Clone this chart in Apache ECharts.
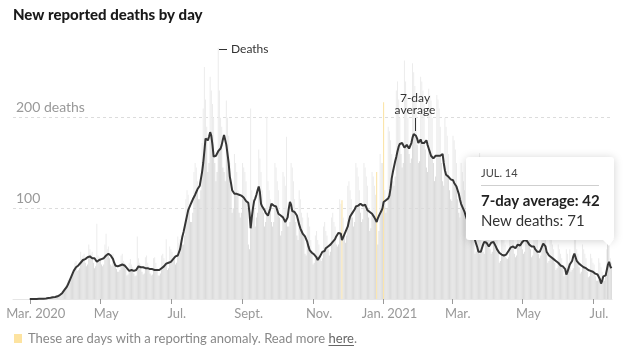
<!DOCTYPE html>
<html>
<head>
<meta charset="utf-8">
<script src="https://cdn.jsdelivr.net/npm/echarts@6/dist/echarts.min.js"></script>
<style>
html,body{margin:0;padding:0;background:#fff;}
#c{width:626px;height:352px;}
</style>
</head>
<body>
<div id="c"></div>
<script>
// ---- DATA ----
const startDate = '2020-03-01';   // first day of the daily series
const padDaysBefore = 14;          // empty axis room before the data
const tickDates  = ['2020-03-01','2020-05-01','2020-07-01','2020-09-01','2020-11-01','2021-01-01','2021-03-01','2021-05-01','2021-07-01'];
const tickLabels = ['Mar. 2020','May','Jul.','Sept.','Nov.','Jan. 2021','Mar.','May','Jul.'];
const yTickLabels = {100:'100', 200:'200 deaths'};
const anomalyDates = ['2020-11-26','2020-12-26','2021-01-01'];
const highlightDate = '2021-07-14';

const dailyDeaths = [
0,0,0,0,0,0,1, 0,0,0,1,0,1,1, 0,1,2,1,2,3,3, 2,1,4,3,5,5,6,
6,8,9,14,16,21,22, 22,24,30,33,40,42,31, 32,34,52,45,48,50,40, 36,38,60,55,50,52,40,
34,36,83,48,46,45,38, 36,38,60,72,55,58,45, 38,36,50,42,38,33,30, 30,32,48,50,42,40,33,
26,27,40,44,38,35,28, 25,26,69,45,40,38,30, 27,28,46,48,40,36,28, 26,27,45,46,40,34,26,
26,28,48,50,45,40,66, 32,34,58,55,52,48,44, 38,40,69,62,66,70,60, 60,70,110,120,115,100,85,
85,95,140,150,145,130,110, 110,120,172,210,256,220,190, 140,150,245,230,215,200,150, 130,140,277,230,200,190,145,
140,130,219,200,180,150,120, 95,100,160,150,140,120,95, 90,95,150,145,140,130,100, 60,55,210,120,110,100,80,
90,95,165,155,140,120,95, 80,85,201,130,120,110,85, 80,85,150,145,130,120,90, 70,75,140,135,125,179,80,
80,85,150,145,130,110,85, 70,65,120,110,95,90,70, 50,48,95,90,80,65,50, 38,40,70,75,65,60,45,
42,45,80,85,75,70,55, 48,52,90,95,85,80,60, 58,60,110,105,109,90,70, 62,70,125,130,120,110,90,
80,85,150,145,135,120,95, 85,88,150,145,135,125,90, 75,78,140,135,125,115,140, 60,75,160,150,150,217,120,
95,100,190,185,175,160,130, 125,135,230,240,220,200,160, 145,150,263,240,225,200,160, 150,155,260,250,235,220,170,
150,152,245,240,230,215,165, 145,140,232,225,219,200,150, 130,135,225,220,210,190,150, 130,125,200,190,180,160,120,
110,108,180,175,165,150,110, 95,90,150,140,130,120,90, 75,70,120,115,105,95,70, 50,52,100,95,161,90,60,
52,50,90,85,80,70,55, 50,52,90,85,80,70,55, 40,42,75,70,65,60,45, 44,46,80,75,70,65,50,
46,48,85,80,75,70,55, 50,52,90,85,80,70,55, 46,48,80,75,70,65,50, 45,48,85,80,75,70,50,
40,42,70,65,60,55,40, 32,34,60,55,50,45,35, 25,28,55,50,40,55,30, 32,34,70,65,55,50,35,
28,30,60,55,50,45,30, 24,25,50,45,40,38,25, 20,20,45,40,35,30,20, 20,28,55,71,60,45,40
];

const avgDeaths = [
0,0,0,0,0,0,0.1,0.3,0.3,0.3,
0.3,0.4,0.4,0.6,0.6,0.7,1,1,1.3,1.6,
2,2,2.3,2.6,3,3.6,4.3,5,6.4,8,
10,11.6,13.4,16,19,22,25,28,31,33,
35,36,37,38,40,42,43,44,44,45,
46,46,47,46,45,44,45,43,41,42,
43,43,44,44,45,47,48,49,50,49,
48,47,44,40,37,36,36,37,37,38,
38,37,37,36,34,32,31,31,32,32,
31,31,32,34,36,36,35,35,35,35,
34,34,34,34,33,33,33,33,32,32,
32,31,32,33,34,35,36,37,39,39,
40,41,41,43,44,46,47,47,48,50,
55,62,69,74,80,86,92,98,101,104,
107,110,112,115,118,121,123,125,126,140,
150,163,177,178,175,179,184,180,170,157,
155,158,160,163,164,166,170,176,181,179,
170,160,150,135,128,120,118,116,117,116,
115,115,116,114,113,112,110,108,108,106,
95,78,90,100,108,111,115,120,124,118,
105,102,100,98,95,93,92,96,100,105,
104,103,103,102,98,94,93,92,91,90,
88,85,84,90,100,107,104,97,95,96,
98,92,87,82,78,75,72,70,69,69,
63,58,54,52,51,50,49,47,46,43,
45,47,49,52,54,53,56,57,58,58,
60,61,63,64,66,69,71,73,74,72,
65,68,71,74,75,80,86,91,93,95,
96,99,102,103,103,104,105,104,103,104,
104,103,98,97,96,95,94,93,90,88,
85,89,92,94,97,100,107,108,109,110,
111,114,122,133,140,146,152,157,163,168,
171,173,172,170,167,168,170,168,166,166,
172,178,182,184,180,177,172,174,176,172,
170,172,174,175,170,166,162,158,156,155,
156,158,159,158,157,158,160,160,150,142,
137,135,135,133,132,131,131,128,126,124,
120,116,110,105,102,100,96,92,88,84,
80,77,74,72,69,65,61,57,52,50,
52,56,60,63,64,62,60,58,60,62,
64,63,61,58,55,53,51,50,49,48,
48,48,49,51,53,55,57,58,58,57,
56,58,60,60,59,61,63,64,65,66,
64,62,60,59,58,60,58,55,53,52,
51,52,55,58,61,62,58,52,50,48,
47,46,45,44,43,42,41,40,38,37,
37,36,36,33,27,30,34,38,39,42,
47,50,46,42,40,39,38,37,36,35,
35,34,33,32,31,31,30,30,29,28,
27,27,26,22,17,20,25,26,26,27,
38,41,36,34
];

// ---- BUILD ----
function fmt(d){const m=d.getUTCMonth()+1, day=d.getUTCDate();return d.getUTCFullYear()+'-'+(m<10?'0':'')+m+'-'+(day<10?'0':'')+day;}
const categories = [];
const t0 = Date.parse(startDate+'T00:00:00Z');
for (let i=-padDaysBefore;i<dailyDeaths.length;i++){categories.push(fmt(new Date(t0+i*86400000)));}
const pad = new Array(padDaysBefore).fill(null);

const BASE='#dbdbdb', TOP='#ececec', YEL='#fbe2a2', HI='#bdbdbd';
// lower part of each bar (up to the 7-day average) and the spike above it
const baseData = pad.concat(dailyDeaths.map((v,i)=>{
  const d = categories[i+padDaysBefore];
  const low = Math.min(v, avgDeaths[i]);
  if (anomalyDates.indexOf(d)>=0) return {value:low,itemStyle:{color:YEL}};
  if (d===highlightDate) return {value:low,itemStyle:{color:HI}};
  return low;
}));
const topData = pad.concat(dailyDeaths.map((v,i)=>{
  const d = categories[i+padDaysBefore];
  const hi = Math.max(0, v-avgDeaths[i]);
  if (anomalyDates.indexOf(d)>=0) return {value:hi,itemStyle:{color:YEL}};
  if (d===highlightDate) return {value:hi,itemStyle:{color:HI}};
  return hi;
}));
const lineData = pad.concat(avgDeaths);

const FONT = 'Lato, "Liberation Sans", Arial, sans-serif';
const chart = echarts.init(document.getElementById('c'), null, {renderer:'canvas'});

// measure footer text for underline
const cv = document.createElement('canvas').getContext('2d');
cv.font = '13px ' + FONT;
const footA = 'These are days with a reporting anomaly. Read more ';
const footB = 'here';
const wA = cv.measureText(footA).width, wB = cv.measureText(footB).width;
const footX = 28, footY = 339;

chart.setOption({
  animation:false,
  textStyle:{fontFamily:FONT},
  grid:{left:13,right:14,top:27,bottom:53,containLabel:false},
  xAxis:{
    type:'category', data:categories, boundaryGap:true,
    axisLine:{show:true,lineStyle:{color:'#e6e6e6',width:1}},
    axisTick:{show:true,alignWithLabel:true,length:5,lineStyle:{color:'#999'},
      interval:(i,v)=>tickDates.indexOf(v)>=0},
    axisLabel:{interval:(i,v)=>tickDates.indexOf(v)>=0,
      formatter:(v)=>{const k=tickDates.indexOf(v);return k>=0?tickLabels[k]:'';},
      color:'#999',fontSize:13,fontFamily:FONT,margin:8,padding:[0,0,0,12]},
    splitLine:{show:false}
  },
  yAxis:{
    type:'value',min:0,max:300,interval:100,
    axisLine:{show:false},axisTick:{show:false},
    axisLabel:{inside:true,verticalAlign:'bottom',margin:3,padding:[0,0,3,0],color:'#999',fontSize:14,fontFamily:FONT,
      formatter:(v)=>yTickLabels[v]||''},
    splitLine:{show:true,lineStyle:{color:['transparent','#dcdcdc','#dcdcdc','transparent'],type:[3,3],width:1}}
  },
  series:[
    {type:'bar',data:baseData,stack:'d',barCategoryGap:'12%',itemStyle:{color:BASE},silent:true,z:1},
    {type:'bar',data:topData,stack:'d',barCategoryGap:'12%',itemStyle:{color:TOP},silent:true,z:1},
    {type:'line',data:lineData,symbol:'none',smooth:false,lineStyle:{color:'#363636',width:2},silent:true,z:3}
  ],
  graphic:[
    {type:'text',left:13,top:8,style:{text:'New reported deaths by day',font:'900 15px '+FONT,fill:'#1a1a1a'}},
    {type:'line',shape:{x1:219,y1:49.5,x2:227,y2:49.5},style:{stroke:'#333',lineWidth:1},z:10},
    {type:'text',x:231,y:49,style:{text:'Deaths',font:'12px '+FONT,fill:'#333',textVerticalAlign:'middle'},z:10},
    {type:'text',x:415,y:104,style:{text:'7-day\naverage',font:'12px '+FONT,fill:'#333',textAlign:'center',textVerticalAlign:'middle',lineHeight:12},z:10},
    {type:'line',shape:{x1:415.5,y1:118,x2:415.5,y2:131},style:{stroke:'#333',lineWidth:1},z:10},
    // tooltip box
    {type:'rect',shape:{x:466,y:157,width:148,height:83,r:3},style:{fill:'#fff',shadowBlur:10,shadowColor:'rgba(0,0,0,0.18)',shadowOffsetY:1},z:20},
    {type:'polygon',shape:{points:[[602,239],[609,246],[614,239]]},style:{fill:'#fff'},z:21},
    {type:'text',x:481,y:173,style:{text:'JUL. 14',font:'11px '+FONT,fill:'#444',textVerticalAlign:'middle'},z:22},
    {type:'line',shape:{x1:481,y1:185.5,x2:599,y2:185.5},style:{stroke:'#cfcfcf',lineWidth:1},z:22},
    {type:'text',x:481,y:201,style:{text:'7-day average: 42',font:'bold 15px '+FONT,fill:'#222',textVerticalAlign:'middle'},z:22},
    {type:'text',x:481,y:221,style:{text:'New deaths: 71',font:'15px '+FONT,fill:'#333',textVerticalAlign:'middle'},z:22},
    // footer
    {type:'rect',shape:{x:14,y:334,width:8,height:9},style:{fill:'#fde3a0'},z:10},
    {type:'text',x:footX,y:footY,style:{text:footA,font:'13px '+FONT,fill:'#888',textVerticalAlign:'middle'},z:10},
    {type:'text',x:footX+wA,y:footY,style:{text:footB,font:'13px '+FONT,fill:'#666',textVerticalAlign:'middle'},z:10},
    {type:'line',shape:{x1:footX+wA,y1:footY+6.5,x2:footX+wA+wB,y2:footY+6.5},style:{stroke:'#666',lineWidth:1},z:10},
    {type:'text',x:footX+wA+wB,y:footY,style:{text:'.',font:'13px '+FONT,fill:'#888',textVerticalAlign:'middle'},z:10}
  ]
});
</script>
</body>
</html>
